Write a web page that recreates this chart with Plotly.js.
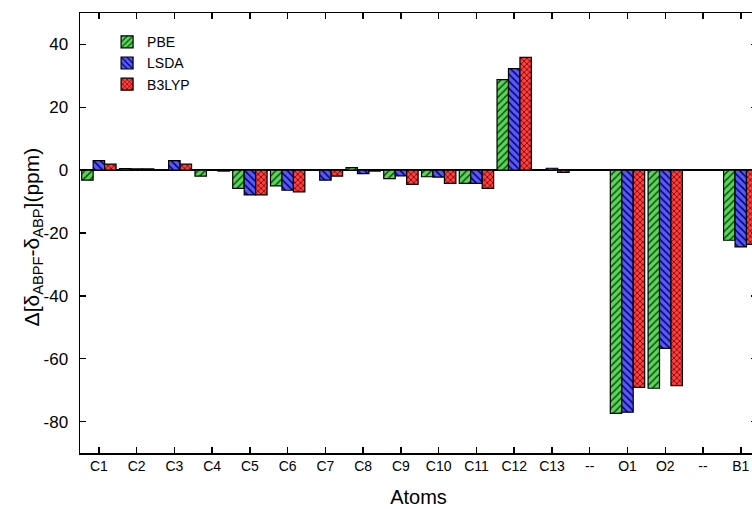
<!DOCTYPE html>
<html>
<head>
<meta charset="utf-8">
<script src="https://cdn.plot.ly/plotly-3.0.1.min.js"></script>
<style>
html, body { margin: 0; padding: 0; overflow: hidden; background: #fff; }
#chart { width: 770px; height: 509px; }
</style>
</head>
<body>
<div id="chart"></div>
<script>
const categories = ['C1','C2','C3','C4','C5','C6','C7','C8','C9','C10','C11','C12','C13','--','O1','O2','--','B1'];
const pbe   = [-3.2, 0.5, 0.1, -1.9, -5.8, -5.0, 0.0,  0.8, -2.7, -2.1, -4.2, 28.8, 0.0, null, -77.4, -69.4, null, -22.3];
const lsda  = [ 3.0, 0.4, 3.0,  0.0, -7.9, -6.4, -3.2, -1.1, -1.8, -2.2, -4.2, 32.3, 0.6, null, -77.0, -56.7, null, -24.4];
const b3lyp = [ 1.9, 0.4, 1.9, -0.3, -7.9, -6.9, -1.9, -0.3, -4.5, -4.2, -5.8, 35.9, -0.7, null, -69.1, -68.6, null, -23.6];
const yTicks = [-80, -60, -40, -20, 0, 20, 40];
const yTickText = yTicks.map(v => String(v));

const xPos = categories.map((_, i) => i);

function bar(name, y, bg, fg, shape, size, solidity) {
  return {
    type: 'bar', name: name, x: xPos, y: y,
    marker: {
      color: bg,
      line: { color: '#000', width: 1.2 },
      pattern: { shape: shape, bgcolor: bg, fgcolor: fg, size: size, solidity: solidity, fillmode: 'replace' }
    }
  };
}

const data = [
  bar('PBE', pbe, '#5ad45a', '#0f4f0f', '/', 5, 0.3),
  bar('LSDA', lsda, '#5a5af0', '#00007a', '\\', 5, 0.3),
  bar('B3LYP', b3lyp, '#ff4040', '#6a0000', 'x', 4, 0.35)
];

const axisFont = { family: 'Liberation Sans, Arial, sans-serif', color: '#000' };

const layout = {
  width: 770, height: 509,
  margin: { l: 80, r: 13, t: 13, b: 56 },
  paper_bgcolor: '#fff', plot_bgcolor: '#fff',
  barmode: 'group', bargap: 0.09, bargroupgap: 0,
  showlegend: true,
  legend: {
    x: 0.04, y: 0.97, xanchor: 'left', yanchor: 'top',
    bgcolor: 'rgba(0,0,0,0)', borderwidth: 0,
    font: Object.assign({ size: 14 }, axisFont),
    tracegroupgap: 0, itemwidth: 30
  },
  xaxis: {
    range: [-0.5, 17.43],
    tickmode: 'array', tickvals: xPos, ticktext: categories,
    ticks: 'inside', ticklen: 6, tickwidth: 1.5, tickcolor: '#000',
    showline: true, linecolor: '#000', linewidth: 1.5, mirror: 'ticks',
    showgrid: false, zeroline: false,
    tickfont: Object.assign({ size: 14 }, axisFont),
    title: { text: 'Atoms', font: Object.assign({ size: 20 }, axisFont), standoff: 16 }
  },
  yaxis: {
    range: [-90, 50],
    tickmode: 'array', tickvals: yTicks, ticktext: yTickText,
    ticks: 'inside', ticklen: 6, tickwidth: 1.5, tickcolor: '#000',
    showline: true, linecolor: '#000', linewidth: 1.5, mirror: 'ticks',
    showgrid: false, zeroline: true, zerolinecolor: '#000', zerolinewidth: 1.5,
    tickfont: Object.assign({ size: 17 }, axisFont),
    ticklabelstandoff: 7
  },
  annotations: [{
    text: 'Δ[δ<sub>ABPF</sub>-δ<sub>ABP</sub>](ppm)',
    xref: 'paper', yref: 'paper', x: 0, y: 0.49,
    xanchor: 'center', yanchor: 'middle', xshift: -47,
    textangle: -90, showarrow: false,
    font: Object.assign({ size: 21 }, axisFont)
  }]
};

Plotly.newPlot('chart', data, layout, { displayModeBar: false, staticPlot: true });
</script>
</body>
</html>
